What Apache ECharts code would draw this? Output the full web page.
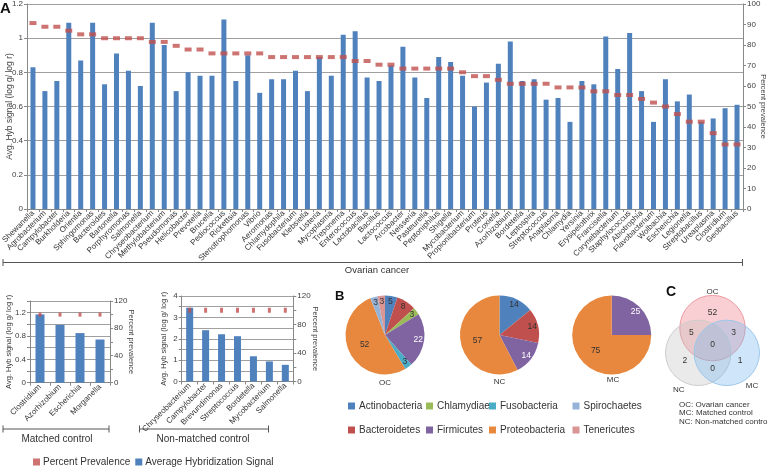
<!DOCTYPE html>
<html><head><meta charset="utf-8">
<script src="https://cdn.jsdelivr.net/npm/echarts@6.0.0/dist/echarts.min.js"></script>
<style>html,body{margin:0;padding:0;background:#fff}#c{width:768px;height:470px}</style>
</head><body><div id="c"></div>
<script>
// ---------- DATA ----------
const ocGenera = ['Shewanella','Agrobacterium','Campylobacter','Burkholderia','Orientia','Sphingomonas','Bacteroides','Bartonella','Porphyromonas','Salmonella','Chryseobacterium','Methylobacterium','Pseudomonas','Helicobacter','Prevotella','Brucella','Pediococcus','Rickettsia','Stenotrophomonas','Vibrio','Aeromonas','Chlamydophila','Fusobacterium','Klebsiella','Listeria','Mycoplasma','Treponema','Enterococcus','Lactobacillus','Bacillus','Lactococcus','Arcobacter','Neisseria','Pasteurella','Peptoniphilus','Shigella','Mycobacterium','Propionibacterium','Proteus','Coxiella','Azorhizobium','Bordetella','Leptospira','Streptococcus','Anaplasma','Chlamydia','Yersinia','Erysipelothrix','Francisella','Corynebacterium','Staphylococcus','Abiotrophia','Flavobacterium','Wolbachia','Escherichia','Legionella','Streptobacillus','Ureaplasma','Clostridium','Geobacillus'];
const ocSignal = [0.83,0.69,0.75,1.09,0.87,1.09,0.73,0.91,0.81,0.72,1.09,0.96,0.69,0.80,0.78,0.78,1.11,0.75,0.90,0.68,0.76,0.76,0.81,0.69,0.89,0.78,1.02,1.04,0.77,0.75,0.84,0.95,0.77,0.65,0.89,0.86,0.78,0.60,0.74,0.85,0.98,0.75,0.76,0.64,0.65,0.51,0.75,0.73,1.01,0.82,1.03,0.69,0.51,0.76,0.63,0.67,0.51,0.53,0.59,0.61];
const ocPrevalence = [90.7,88.9,88.9,87.0,85.2,85.2,83.3,83.3,83.3,83.3,81.5,81.5,79.6,77.8,77.8,75.9,75.9,75.9,75.9,75.9,74.1,74.1,74.1,74.1,74.1,74.1,74.1,72.2,72.2,70.4,70.4,68.5,68.5,68.5,68.5,68.5,66.7,64.8,64.8,63.0,61.1,61.1,61.1,61.1,59.3,59.3,59.3,57.4,57.4,55.6,55.6,53.7,51.9,50.0,46.3,42.6,42.6,37.0,31.5,31.5];

const mcGenera = ['Clostridium','Azorhizobium','Escherichia','Morganella'];
const mcSignal = [1.17,0.99,0.85,0.74];
const mcPrevalence = [100,100,100,100];

const ncGenera = ['Chryseobacterium','Campylobacter','Brevundimonas','Streptococcus','Bordetella','Mycobacterium','Salmonella'];
const ncSignal = [3.45,2.40,2.21,2.12,1.18,0.94,0.78];
const ncPrevalence = [100,100,100,100,100,100,100];

const phyla = ['Actinobacteria','Bacteroidetes','Chlamydiae','Firmicutes','Fusobacteria','Proteobacteria','Spirochaetes','Tenericutes'];
const ocPhylum = [5,8,3,22,3,52,3,3];
const ncPhylum = [14,14,0,14,0,57,0,0];
const mcPhylum = [0,0,0,25,0,75,0,0];

const vennSets = ['OC','NC','MC'];
const vennRegions = [
  {sets:['OC'], value:52},
  {sets:['NC'], value:2},
  {sets:['MC'], value:1},
  {sets:['OC','NC'], value:5},
  {sets:['OC','MC'], value:3},
  {sets:['NC','MC'], value:0},
  {sets:['OC','NC','MC'], value:0}
];
const vennNotes = ['OC: Ovarian cancer','MC: Matched control','NC: Non-matched control'];

// ---------- STYLE ----------
const FONT = '"Liberation Sans", Arial, sans-serif';
const BLUE = '#4f81bd', RED = '#c0504d';
const phylaColors = ['#4f81bd','#c0504d','#9bbb59','#8064a2','#4bacc6','#e8883e','#95b3d7','#d99694'];
const AX = '#888', GRID = '#a0a0a0', TXT = '#404040';

function catAxis(gi, data, fs) {
  return {gridIndex: gi, type: 'category', data: data,
    axisLabel: {rotate: 45, interval: 0, fontSize: fs, margin: 3, color: '#333', fontFamily: FONT},
    axisTick: {show: true, length: 3, lineStyle: {color: AX}},
    axisLine: {lineStyle: {color: AX}}};
}
function valAxis(gi, opt) {
  const right = opt.position === 'right';
  return Object.assign({gridIndex: gi, type: 'value',
    nameLocation: 'middle', nameRotate: right ? -90 : 90, nameMoveOverlap: false,
    nameTextStyle: {fontSize: opt.nfs || 7.5, color: TXT, fontFamily: FONT},
    axisLabel: {fontSize: 8, color: TXT, margin: 4, fontFamily: FONT, formatter: opt.fmt},
    axisLine: {show: true, lineStyle: {color: AX}},
    axisTick: {show: true, length: 3, lineStyle: {color: AX}},
    splitLine: {show: !right, lineStyle: {color: GRID}}
  }, opt);
}
const every = (step) => (v) => { const r = Math.round(v * 100), s = Math.round(step * 100); return r % s === 0 ? String(Math.round(v * 100) / 100) : ''; };

// ---------- PIES ----------
const pieR = 39.5;
function pieData(vals, ghost) {
  const max = Math.max.apply(null, vals);
  const out = [];
  vals.forEach((v, i) => {
    if (!v) return;
    const isMax = v === max;
    out.push({name: phyla[i], value: v,
      itemStyle: {color: ghost ? 'rgba(0,0,0,0)' : phylaColors[i]},
      label: {show: ghost ? !isMax : isMax, color: phyla[i] === 'Firmicutes' ? '#fff' : '#333'}});
  });
  return out;
}
function pies(vals, cx) {
  const common = {type: 'pie', center: [cx, 335], startAngle: 90, clockwise: true,
    label: {position: 'inside', fontSize: 8.5, fontFamily: FONT, formatter: '{c}'},
    labelLine: {show: false}, emphasis: {disabled: true}, itemStyle: {borderWidth: 0}};
  return [
    Object.assign({}, common, {radius: [0, pieR], data: pieData(vals, false), z: 2}),
    Object.assign({}, common, {radius: [0, pieR * 1.55], data: pieData(vals, true), silent: true, z: 3})
  ];
}

// ---------- VENN ----------
const vc = [712.5, 344.6], vd = 16.5, vr = 32.7;
const vAngle = {OC: -90, NC: 150, MC: 30};
const vFill = {OC: 'rgba(240,110,120,0.33)', NC: 'rgba(185,185,185,0.30)', MC: 'rgba(110,180,240,0.33)'};
const vStroke = {OC: '#eb9aa0', NC: '#cccccc', MC: '#9cc6ea'};
const vLabelPos = {OC: [-90, 53], NC: [127, 56], MC: [46, 57]};
const rad = (a) => a * Math.PI / 180;
const graphics = [];
vennSets.forEach((s) => {
  const a = rad(vAngle[s]);
  graphics.push({type: 'circle', shape: {cx: vc[0] + vd * Math.cos(a), cy: vc[1] + vd * Math.sin(a), r: vr},
    style: {fill: vFill[s], stroke: vStroke[s], lineWidth: 1}});
  const la = rad(vLabelPos[s][0]);
  graphics.push({type: 'text', x: vc[0] + vLabelPos[s][1] * Math.cos(la), y: vc[1] + vLabelPos[s][1] * Math.sin(la),
    style: {text: s, fontSize: 8, fill: '#333', fontFamily: FONT, align: 'center', verticalAlign: 'middle'}});
});
vennRegions.forEach((r) => {
  let x = 0, y = 0;
  r.sets.forEach((s) => { x += Math.cos(rad(vAngle[s])); y += Math.sin(rad(vAngle[s])); });
  const len = Math.hypot(x, y) || 1;
  const dist = r.sets.length === 1 ? 32 : (r.sets.length === 2 ? 24.5 : 0);
  graphics.push({type: 'text', x: vc[0] + dist * x / len, y: vc[1] + dist * y / len,
    style: {text: String(r.value), fontSize: 8.5, fill: '#333', fontFamily: FONT, align: 'center', verticalAlign: 'middle'}});
});
vennNotes.forEach((t, i) => {
  graphics.push({type: 'text', x: 679, y: 405 + i * 8.2,
    style: {text: t, fontSize: 8, fill: '#333', fontFamily: FONT, verticalAlign: 'middle'}});
});

// panel letters
[['A', 0, 1, 15], ['B', 335, 290, 13], ['C', 666, 285, 14]].forEach(([t, x, y, fs]) => {
  graphics.push({type: 'text', x: x, y: y, style: {text: t, fontSize: fs, fontWeight: 'bold', fill: '#111', fontFamily: FONT}});
});
// group brackets
function bracket(x1, x2, y, label, lx, ly, fs) {
  graphics.push({type: 'line', shape: {x1: x1, y1: y, x2: x2, y2: y}, style: {stroke: '#555', lineWidth: 1}});
  graphics.push({type: 'line', shape: {x1: x1, y1: y - 3.5, x2: x1, y2: y + 3.5}, style: {stroke: '#555', lineWidth: 1}});
  graphics.push({type: 'line', shape: {x1: x2, y1: y - 3.5, x2: x2, y2: y + 3.5}, style: {stroke: '#555', lineWidth: 1}});
  graphics.push({type: 'text', x: lx, y: ly, style: {text: label, fontSize: fs, fill: '#333', fontFamily: FONT, align: 'center', verticalAlign: 'middle'}});
}
bracket(3, 742.5, 262.5, 'Ovarian cancer', 377, 270.5, 9.5);
bracket(3, 109, 429, 'Matched control', 57, 439, 10);
bracket(139.5, 268.5, 429, 'Non-matched control', 203, 439, 10);
// pie captions
[['OC', 385, 383], ['NC', 499.5, 382], ['MC', 613, 380]].forEach(([t, x, y]) => {
  graphics.push({type: 'text', x: x, y: y, style: {text: t, fontSize: 8, fill: '#333', fontFamily: FONT, align: 'center', verticalAlign: 'middle'}});
});

// ---------- LEGENDS ----------
const legendCols = [[0, 1], [2, 3], [4, 5], [6, 7]];
const legendLeft = [348, 426, 489, 572.5];
const legends = legendCols.map((col, k) => ({
  orient: 'vertical', left: legendLeft[k], top: 401, itemWidth: 7, itemHeight: 7, itemGap: 14,
  icon: 'rect', selectedMode: false, padding: 0,
  textStyle: {fontSize: 10, color: '#333', fontFamily: FONT, padding: [0, 0, 0, -1]},
  data: col.map((i) => ({name: phyla[i], itemStyle: {color: phylaColors[i]}}))
}));
legends.push({orient: 'horizontal', left: 33, top: 457, itemWidth: 7, itemHeight: 7, itemGap: 5,
  icon: 'rect', selectedMode: false, padding: 0,
  textStyle: {fontSize: 10, color: '#333', fontFamily: FONT, padding: [0, 0, 0, -2]},
  data: [{name: 'Percent Prevalence', itemStyle: {color: RED}}, {name: 'Average Hybridization Signal', itemStyle: {color: BLUE}}]});

// ---------- OPTION ----------
const option = {
  animation: false,
  textStyle: {fontFamily: FONT},
  grid: [
    {left: 27, top: 4, width: 716, height: 205, containLabel: false, outerBoundsMode: 'none'},
    {left: 30, top: 301, width: 80, height: 81.7, containLabel: false, outerBoundsMode: 'none'},
    {left: 181.7, top: 296, width: 111.6, height: 85.5, containLabel: false, outerBoundsMode: 'none'}
  ],
  xAxis: [catAxis(0, ocGenera, 8), catAxis(1, mcGenera, 8), catAxis(2, ncGenera, 8)],
  yAxis: [
    valAxis(0, {min: 0, max: 1.2, interval: 0.2, name: 'Avg. Hyb signal (log g/ log r)', nameGap: 13, nfs: 8.5}),
    valAxis(0, {position: 'right', min: 0, max: 100, interval: 10, name: 'Percent prevalence', nameGap: 16, nfs: 7.5}),
    valAxis(1, {min: 0, max: 1.4, interval: 0.2, fmt: every(0.4), name: 'Avg. Hyb signal (log g/ log r)', nameGap: 17}),
    valAxis(1, {position: 'right', min: 0, max: 120, interval: 20, fmt: every(40), name: 'Percent prevalence', nameGap: 17}),
    valAxis(2, {min: 0, max: 4, interval: 0.5, fmt: every(1), name: 'Avg. Hyb signal (log g/ log r)', nameGap: 14}),
    valAxis(2, {position: 'right', min: 0, max: 120, interval: 20, fmt: every(40), name: 'Percent prevalence', nameGap: 18})
  ],
  legend: legends,
  graphic: {elements: graphics},
  series: [
    {name: 'Average Hybridization Signal', type: 'bar', xAxisIndex: 0, yAxisIndex: 0, data: ocSignal, barWidth: 5, itemStyle: {color: BLUE}},
    {name: 'Percent Prevalence', type: 'scatter', xAxisIndex: 0, yAxisIndex: 1, data: ocPrevalence, symbol: 'rect', symbolSize: [7, 4], itemStyle: {color: RED}, z: 5},
    {name: 'Average Hybridization Signal', type: 'bar', xAxisIndex: 1, yAxisIndex: 2, data: mcSignal, barWidth: 9, itemStyle: {color: BLUE}},
    {name: 'Percent Prevalence', type: 'scatter', xAxisIndex: 1, yAxisIndex: 3, data: mcPrevalence, symbol: 'rect', symbolSize: [3, 4], itemStyle: {color: RED}, z: 5},
    {name: 'Average Hybridization Signal', type: 'bar', xAxisIndex: 2, yAxisIndex: 4, data: ncSignal, barWidth: 7, itemStyle: {color: BLUE}},
    {name: 'Percent Prevalence', type: 'scatter', xAxisIndex: 2, yAxisIndex: 5, data: ncPrevalence, symbol: 'rect', symbolSize: [3, 5], itemStyle: {color: RED}, z: 5}
  ].concat(pies(ocPhylum, 385), pies(ncPhylum, 499.5), pies(mcPhylum, 611.7))
};
const chart = echarts.init(document.getElementById('c'), null, {renderer: 'canvas'});
chart.setOption(option);
</script></body></html>
